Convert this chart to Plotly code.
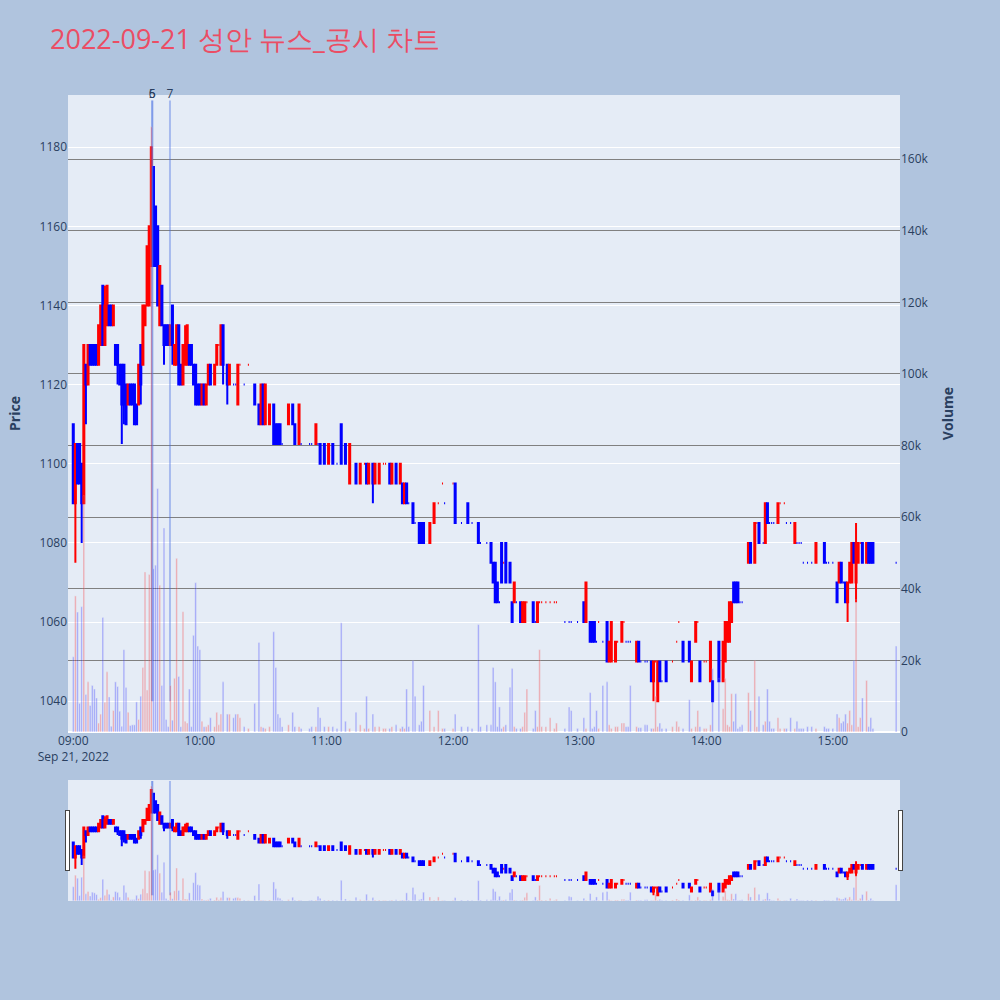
import plotly.graph_objects as go
from plotly.subplots import make_subplots

trade_date = "2022-09-21"

times = [
    "09:00", "09:01", "09:02", "09:03", "09:04", "09:05", "09:06", "09:07", "09:08", "09:09",
    "09:10", "09:11", "09:12", "09:13", "09:14", "09:15", "09:16", "09:17", "09:18", "09:19",
    "09:20", "09:21", "09:22", "09:23", "09:24", "09:25", "09:26", "09:27", "09:28", "09:29",
    "09:30", "09:31", "09:32", "09:33", "09:34", "09:35", "09:36", "09:37", "09:38", "09:39",
    "09:40", "09:41", "09:42", "09:43", "09:44", "09:45", "09:46", "09:47", "09:48", "09:49",
    "09:50", "09:51", "09:52", "09:53", "09:54", "09:55", "09:56", "09:57", "09:58", "09:59",
    "10:00", "10:01", "10:02", "10:03", "10:04", "10:05", "10:07", "10:08", "10:09", "10:10",
    "10:11", "10:13", "10:14", "10:16", "10:17", "10:18", "10:19", "10:21", "10:23", "10:26",
    "10:28", "10:29", "10:30", "10:31", "10:33", "10:35", "10:36", "10:37", "10:38", "10:39",
    "10:42", "10:44", "10:45", "10:47", "10:48", "10:52", "10:53", "10:55", "10:56", "10:57",
    "10:59", "11:01", "11:03", "11:05", "11:07", "11:09", "11:11", "11:14", "11:16", "11:18",
    "11:19", "11:20", "11:22", "11:23", "11:25", "11:27", "11:28", "11:30", "11:31", "11:33",
    "11:35", "11:36", "11:37", "11:38", "11:39", "11:41", "11:42", "11:44", "11:45", "11:46",
    "11:49", "11:51", "11:53", "11:55", "11:56", "12:00", "12:01", "12:04", "12:07", "12:09",
    "12:12", "12:13", "12:16", "12:18", "12:19", "12:20", "12:21", "12:22", "12:23", "12:24",
    "12:25", "12:27", "12:28", "12:29", "12:30", "12:32", "12:33", "12:34", "12:35", "12:38",
    "12:39", "12:40", "12:41", "12:42", "12:44", "12:46", "12:48", "12:49", "12:53", "12:55",
    "12:56", "12:59", "13:02", "13:03", "13:05", "13:06", "13:07", "13:08", "13:09", "13:11",
    "13:13", "13:14", "13:15", "13:17", "13:18", "13:20", "13:21", "13:22", "13:23", "13:24",
    "13:27", "13:28", "13:29", "13:31", "13:32", "13:34", "13:35", "13:36", "13:37", "13:38",
    "13:39", "13:41", "13:44", "13:46", "13:47", "13:49", "13:52", "13:53", "13:55", "13:56",
    "13:57", "13:59", "14:00", "14:02", "14:03", "14:06", "14:08", "14:09", "14:10", "14:11",
    "14:12", "14:13", "14:14", "14:15", "14:16", "14:17", "14:20", "14:21", "14:23", "14:24",
    "14:25", "14:27", "14:28", "14:29", "14:30", "14:31", "14:32", "14:34", "14:35", "14:37",
    "14:38", "14:40", "14:42", "14:43", "14:44", "14:45", "14:46", "14:48", "14:50", "14:52",
    "14:56", "14:57", "14:58", "15:00", "15:02", "15:03", "15:04", "15:05", "15:06", "15:07",
    "15:08", "15:09", "15:10", "15:11", "15:12", "15:13", "15:14", "15:16", "15:17", "15:18",
    "15:19", "15:30",
]

opens = [
    1110, 1090, 1105, 1105, 1100, 1090, 1125, 1120, 1130, 1130,
    1130, 1130, 1125, 1130, 1145, 1130, 1135, 1140, 1140, 1135,
    1130, 1130, 1125, 1125, 1125, 1120, 1115, 1120, 1120, 1120,
    1115, 1115, 1130, 1125, 1135, 1140, 1140, 1150, 1175, 1165,
    1160, 1135, 1145, 1135, 1135, 1135, 1130, 1140, 1125, 1125,
    1135, 1125, 1120, 1125, 1125, 1130, 1130, 1125, 1125, 1120,
    1120, 1115, 1120, 1115, 1120, 1125, 1120, 1125, 1130, 1125,
    1135, 1125, 1120, 1120, 1120, 1115, 1125, 1120, 1125, 1120,
    1115, 1110, 1120, 1110, 1110, 1115, 1110, 1110, 1110, 1105,
    1110, 1115, 1110, 1105, 1105, 1105, 1105, 1105, 1105, 1105,
    1105, 1100, 1105, 1100, 1110, 1105, 1095, 1100, 1095, 1100,
    1100, 1095, 1100, 1095, 1095, 1100, 1100, 1100, 1095, 1100,
    1095, 1095, 1090, 1095, 1090, 1090, 1085, 1085, 1085, 1085,
    1080, 1085, 1090, 1095, 1090, 1095, 1095, 1085, 1090, 1085,
    1085, 1080, 1080, 1080, 1075, 1075, 1070, 1065, 1080, 1075,
    1080, 1075, 1065, 1065, 1065, 1065, 1060, 1060, 1065, 1065,
    1060, 1060, 1065, 1065, 1065, 1065, 1065, 1065, 1060, 1060,
    1060, 1060, 1065, 1060, 1060, 1060, 1060, 1055, 1060, 1055,
    1060, 1050, 1050, 1050, 1055, 1055, 1060, 1055, 1055, 1055,
    1050, 1055, 1050, 1050, 1050, 1050, 1045, 1050, 1040, 1050,
    1045, 1050, 1050, 1055, 1060, 1055, 1055, 1045, 1055, 1060,
    1050, 1050, 1050, 1045, 1045, 1055, 1045, 1050, 1055, 1055,
    1060, 1070, 1070, 1070, 1065, 1065, 1075, 1080, 1075, 1085,
    1085, 1080, 1080, 1090, 1085, 1085, 1085, 1085, 1090, 1090,
    1085, 1085, 1080, 1080, 1080, 1080, 1075, 1075, 1075, 1075,
    1080, 1075, 1075, 1075, 1070, 1070, 1075, 1070, 1070, 1065,
    1070, 1070, 1080, 1070, 1075, 1080, 1080, 1075, 1080, 1080,
    1080, 1075,
]

highs = [
    1110, 1105, 1105, 1105, 1100, 1130, 1125, 1130, 1130, 1130,
    1130, 1130, 1135, 1140, 1145, 1145, 1145, 1140, 1140, 1140,
    1130, 1130, 1125, 1125, 1125, 1120, 1120, 1120, 1120, 1120,
    1115, 1125, 1130, 1140, 1140, 1155, 1160, 1180, 1175, 1165,
    1160, 1150, 1145, 1135, 1135, 1135, 1135, 1140, 1130, 1135,
    1135, 1125, 1130, 1135, 1135, 1130, 1130, 1125, 1125, 1120,
    1120, 1120, 1120, 1120, 1125, 1125, 1125, 1130, 1130, 1135,
    1135, 1125, 1125, 1120, 1120, 1125, 1125, 1120, 1125, 1120,
    1115, 1120, 1120, 1120, 1115, 1115, 1110, 1110, 1110, 1105,
    1115, 1115, 1110, 1115, 1105, 1105, 1105, 1110, 1105, 1105,
    1105, 1105, 1105, 1100, 1110, 1105, 1105, 1100, 1100, 1100,
    1100, 1100, 1100, 1100, 1100, 1100, 1100, 1100, 1100, 1100,
    1100, 1095, 1095, 1095, 1090, 1090, 1085, 1085, 1085, 1085,
    1085, 1090, 1090, 1095, 1090, 1095, 1095, 1085, 1090, 1085,
    1085, 1080, 1080, 1080, 1075, 1075, 1070, 1065, 1080, 1075,
    1080, 1075, 1065, 1070, 1065, 1065, 1065, 1065, 1065, 1065,
    1060, 1065, 1065, 1065, 1065, 1065, 1065, 1065, 1060, 1060,
    1060, 1060, 1065, 1070, 1060, 1060, 1060, 1055, 1060, 1055,
    1060, 1055, 1060, 1055, 1055, 1060, 1060, 1055, 1055, 1055,
    1055, 1055, 1050, 1050, 1050, 1050, 1050, 1050, 1050, 1050,
    1045, 1050, 1050, 1055, 1060, 1055, 1055, 1050, 1060, 1060,
    1050, 1050, 1050, 1055, 1045, 1055, 1055, 1060, 1060, 1065,
    1065, 1070, 1070, 1070, 1065, 1065, 1080, 1080, 1085, 1085,
    1085, 1080, 1090, 1090, 1085, 1085, 1085, 1090, 1090, 1090,
    1085, 1085, 1085, 1080, 1080, 1080, 1075, 1075, 1075, 1080,
    1080, 1075, 1075, 1075, 1070, 1075, 1075, 1070, 1070, 1070,
    1075, 1080, 1080, 1085, 1080, 1080, 1080, 1080, 1080, 1080,
    1080, 1075,
]

lows = [
    1090, 1075, 1095, 1095, 1080, 1090, 1110, 1120, 1125, 1125,
    1125, 1125, 1125, 1130, 1130, 1130, 1135, 1135, 1135, 1135,
    1125, 1120, 1120, 1105, 1110, 1110, 1115, 1115, 1115, 1110,
    1110, 1115, 1115, 1125, 1135, 1140, 1140, 1150, 1150, 1150,
    1140, 1135, 1135, 1125, 1130, 1130, 1130, 1125, 1125, 1125,
    1120, 1120, 1120, 1125, 1125, 1125, 1125, 1120, 1115, 1115,
    1115, 1115, 1115, 1115, 1120, 1120, 1120, 1125, 1130, 1125,
    1120, 1115, 1120, 1120, 1120, 1115, 1125, 1120, 1125, 1115,
    1110, 1110, 1110, 1110, 1110, 1105, 1105, 1105, 1105, 1105,
    1110, 1110, 1105, 1105, 1105, 1105, 1105, 1105, 1105, 1100,
    1100, 1100, 1100, 1100, 1100, 1100, 1095, 1095, 1095, 1100,
    1095, 1095, 1090, 1095, 1095, 1100, 1100, 1095, 1095, 1095,
    1095, 1090, 1090, 1090, 1090, 1085, 1085, 1080, 1080, 1080,
    1080, 1085, 1090, 1095, 1090, 1095, 1085, 1085, 1085, 1085,
    1080, 1080, 1080, 1075, 1070, 1065, 1065, 1065, 1070, 1075,
    1070, 1070, 1060, 1065, 1065, 1060, 1060, 1060, 1065, 1060,
    1060, 1060, 1065, 1065, 1065, 1065, 1065, 1065, 1060, 1060,
    1060, 1060, 1060, 1060, 1055, 1055, 1055, 1055, 1060, 1055,
    1050, 1050, 1050, 1050, 1055, 1055, 1060, 1055, 1055, 1055,
    1050, 1050, 1050, 1050, 1050, 1045, 1040, 1050, 1040, 1045,
    1045, 1045, 1050, 1055, 1060, 1050, 1050, 1045, 1055, 1060,
    1045, 1050, 1050, 1045, 1040, 1045, 1045, 1050, 1055, 1055,
    1060, 1065, 1065, 1065, 1065, 1065, 1075, 1075, 1075, 1085,
    1080, 1080, 1080, 1085, 1085, 1085, 1085, 1085, 1090, 1090,
    1085, 1085, 1080, 1080, 1080, 1080, 1075, 1075, 1075, 1075,
    1075, 1075, 1075, 1075, 1065, 1070, 1070, 1070, 1065, 1060,
    1070, 1070, 1075, 1065, 1075, 1080, 1075, 1075, 1075, 1075,
    1075, 1075,
]

closes = [
    1090, 1105, 1095, 1095, 1090, 1130, 1120, 1130, 1125, 1125,
    1125, 1125, 1135, 1140, 1130, 1140, 1145, 1135, 1135, 1140,
    1125, 1125, 1120, 1115, 1115, 1110, 1120, 1115, 1115, 1110,
    1110, 1125, 1120, 1140, 1140, 1155, 1160, 1180, 1150, 1150,
    1140, 1150, 1135, 1130, 1130, 1130, 1135, 1130, 1130, 1135,
    1120, 1120, 1130, 1130, 1135, 1125, 1125, 1120, 1115, 1115,
    1115, 1120, 1115, 1120, 1125, 1120, 1125, 1130, 1130, 1135,
    1125, 1120, 1125, 1120, 1120, 1125, 1125, 1120, 1125, 1115,
    1110, 1120, 1110, 1120, 1115, 1105, 1105, 1105, 1105, 1105,
    1115, 1110, 1105, 1115, 1105, 1105, 1105, 1110, 1105, 1100,
    1100, 1105, 1100, 1100, 1100, 1100, 1105, 1095, 1100, 1100,
    1095, 1100, 1095, 1100, 1100, 1100, 1100, 1095, 1100, 1095,
    1100, 1090, 1095, 1090, 1090, 1085, 1085, 1080, 1080, 1080,
    1085, 1090, 1090, 1095, 1090, 1095, 1085, 1085, 1085, 1085,
    1080, 1080, 1080, 1075, 1070, 1065, 1065, 1065, 1070, 1075,
    1070, 1070, 1060, 1070, 1065, 1060, 1065, 1065, 1065, 1060,
    1060, 1065, 1065, 1065, 1065, 1065, 1065, 1065, 1060, 1060,
    1060, 1060, 1060, 1070, 1055, 1055, 1055, 1055, 1060, 1055,
    1050, 1055, 1060, 1055, 1055, 1060, 1060, 1055, 1055, 1055,
    1055, 1050, 1050, 1050, 1050, 1045, 1050, 1050, 1050, 1045,
    1045, 1045, 1050, 1055, 1060, 1050, 1050, 1050, 1060, 1060,
    1045, 1050, 1050, 1055, 1040, 1045, 1055, 1060, 1060, 1065,
    1065, 1065, 1065, 1065, 1065, 1065, 1080, 1075, 1085, 1085,
    1080, 1080, 1090, 1085, 1085, 1085, 1085, 1090, 1090, 1090,
    1085, 1085, 1085, 1080, 1080, 1080, 1075, 1075, 1075, 1080,
    1075, 1075, 1075, 1075, 1065, 1075, 1070, 1070, 1065, 1070,
    1075, 1080, 1075, 1080, 1080, 1080, 1075, 1080, 1075, 1075,
    1075, 1075,
]

volumes = [
    21000, 38000, 33500, 8000, 35000, 66000, 10500, 14000, 7400, 13000,
    12000, 9500, 2500, 5000, 32000, 8300, 16800, 9800, 1600, 6000,
    14000, 12700, 5800, 1600, 23000, 12400, 5500, 1800, 2000, 2000,
    8400, 3500, 10000, 18000, 44700, 11700, 44000, 169000, 45600, 46600,
    68000, 41000, 13000, 57000, 3500, 1500, 13000, 3300, 15000, 48500,
    15500, 1500, 33600, 3000, 2500, 12000, 1500, 27000, 41700, 24000,
    23000, 3000, 1500, 1500, 2000, 4000, 1500, 5500, 2000, 5000,
    14000, 5000, 5000, 4000, 5000, 5000, 4000, 1500, 1000, 8000,
    25000, 1500, 1200, 1000, 1500, 28000, 18000, 5000, 4000, 1500,
    2000, 5500, 1500, 1500, 1000, 1000, 1500, 1500, 7000, 4000,
    1500, 1500, 1500, 1000, 30500, 3000, 1000, 5500, 2000, 1000,
    10000, 1000, 5000, 1500, 1500, 1000, 1000, 1000, 1500, 2000,
    1000, 1500, 1000, 12000, 1500, 20000, 10000, 2000, 3000, 13000,
    6000, 1500, 6000, 1000, 1000, 1000, 5000, 1500, 1500, 1000,
    30000, 1500, 2000, 2000, 18000, 14000, 1500, 7000, 1000, 1500,
    2000, 12500, 17700, 1500, 1000, 1000, 1500, 5500, 12000, 1000,
    6000, 1500, 23000, 1500, 1500, 4000, 1000, 2500, 1000, 7000,
    6000, 1000, 4000, 1000, 11000, 1000, 1500, 6000, 1000, 13000,
    14000, 2000, 1000, 1500, 1500, 2500, 2500, 1500, 1500, 13000,
    1500, 1200, 1200, 2000, 2000, 1000, 1000, 10000, 1500, 2500,
    1000, 1000, 1500, 3000, 1500, 1000, 9000, 1000, 1500, 6000,
    1500, 1000, 1000, 2000, 17700, 15000, 6500, 15000, 2000, 1500,
    10700, 3000, 10700, 1000, 1500, 2000, 11000, 6000, 20000, 1500,
    10000, 2000, 3000, 12000, 3000, 1000, 1000, 4000, 1000, 1000,
    1000, 4000, 1000, 3000, 1000, 1000, 1000, 1500, 1500, 1000,
    1500, 1000, 1000, 1000, 5000, 4000, 2500, 3000, 5000, 2500,
    6000, 2000, 20000, 37000, 1500, 4000, 9500, 14400, 1500, 4000,
    1000, 24000,
]

news_times = ["09:37:26", "09:37:26", "09:45:50"]
news_labels = ["6", "5", "7"]

x_start = "08:57:30"
x_end = "15:31:50"

assert len(times) == len(opens) == len(highs) == len(lows) == len(closes) == len(volumes)

x = [f"{trade_date} {t}:00" for t in times]

# bar colours follow candle direction (plotly rule: doji compares with previous close)
bar_colors = []
up = True
prev_close = None
for o, c in zip(opens, closes):
    if c == o:
        if prev_close is not None and c != prev_close:
            up = c > prev_close
    else:
        up = c > o
    prev_close = c
    bar_colors.append("red" if up else "blue")

fig = make_subplots(specs=[[{"secondary_y": True}]])

fig.add_trace(
    go.Candlestick(
        x=x, open=opens, high=highs, low=lows, close=closes,
        increasing=dict(line=dict(color="red"), fillcolor="red"),
        decreasing=dict(line=dict(color="blue"), fillcolor="blue"),
        name="Price", showlegend=False,
    ),
    secondary_y=False,
)

line_bottom = min(lows)
line_top = max(highs) * 1.01
for t, lab in zip(news_times, news_labels):
    fig.add_trace(
        go.Scatter(
            x=[f"{trade_date} {t}"] * 2, y=[line_bottom, line_top],
            mode="lines+text", text=["", lab], textposition="top center",
            cliponaxis=False,
            line=dict(color="rgba(65,105,225,0.38)", width=2),
            showlegend=False, hoverinfo="skip",
        ),
        secondary_y=False,
    )

fig.add_trace(
    go.Bar(x=x, y=volumes, marker_color=bar_colors, opacity=0.3,
           name="Volume", showlegend=False),
    secondary_y=True,
)

x_range = [f"{trade_date} {x_start}", f"{trade_date} {x_end}"]

fig.update_layout(
    width=1000, height=1000,
    template="plotly",
    paper_bgcolor="lightsteelblue",
    plot_bgcolor="#E5ECF6",
    title=dict(text="2022-09-21 성안 뉴스_공시 차트", x=0.05, xanchor="left",
               y=0.96, yanchor="middle",
               font=dict(size=27, color="#EB4D64")),
    margin=dict(l=68, r=100, t=95, b=100),
    showlegend=False,
    xaxis=dict(showgrid=False, range=x_range, automargin=False, domain=[0, 1],
               rangeslider=dict(visible=True, thickness=0.15, bgcolor="#E5ECF6",
                                range=x_range)),
)
fig.update_yaxes(title_text="<b>Price</b>", range=[1032.2, 1193.2],
                 gridcolor="white", automargin=False, secondary_y=False)
fig.update_yaxes(title_text="<b>Volume</b>", showgrid=True, gridcolor="gray",
                 automargin=False, secondary_y=True)

fig.write_html("out.html", config={"displayModeBar": False},
               post_script="document.body.style.margin='0';")
